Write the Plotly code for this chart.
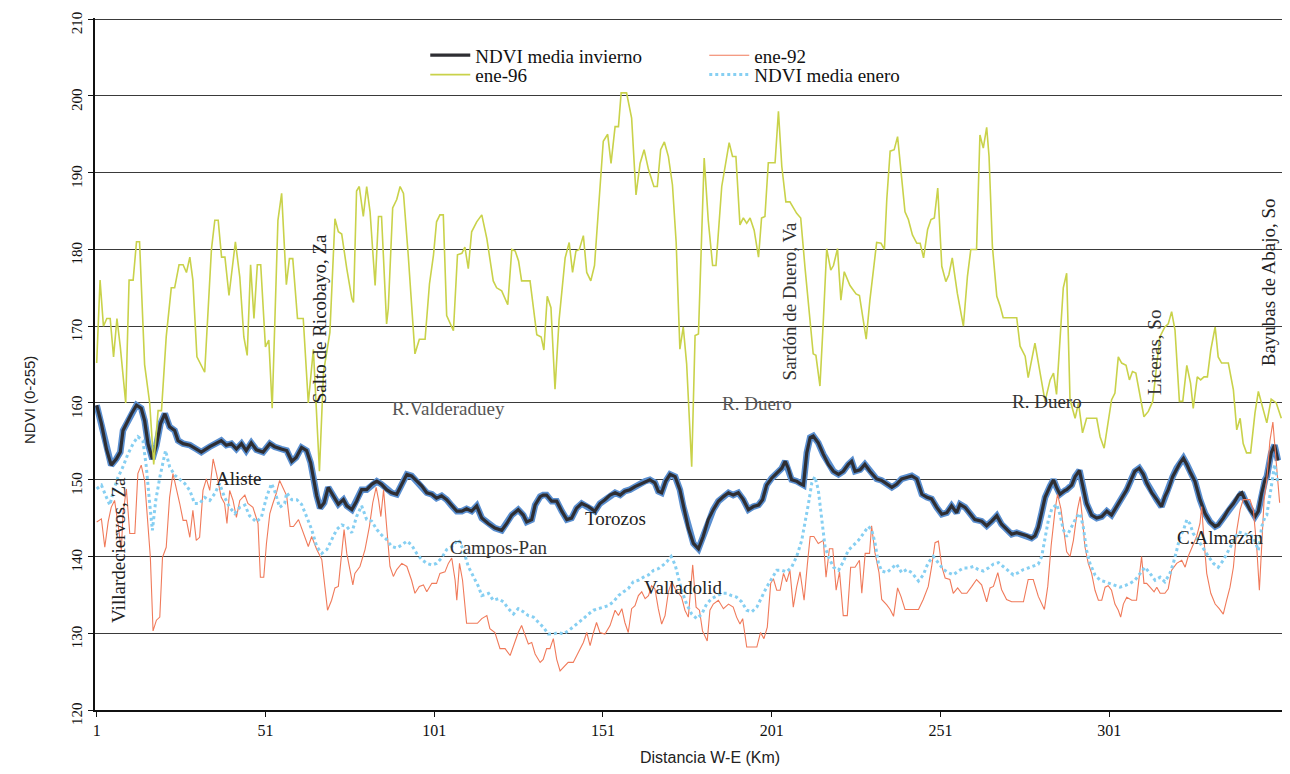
import plotly.graph_objects as go

# ---------------- data (km, NDVI) ----------------
invierno = [(1,159.7),(2.4,157.3),(3.9,154),(5.3,151.9),(6.8,152.7),(8,153.6),(8.8,156.4),(10,157.5),(11.3,158.6),(12.8,159.7),(14.2,159.3),(15.2,157.7),(16.2,154.7),(17.5,152.7),(18.7,154.5),(19.9,157.3),(21.2,158.6),(22.6,156.9),(24.1,156.4),(25.1,155.1),(26.6,154.7),(28.6,154.5),(30.5,154),(32,153.6),(34.5,154.3),(36.5,154.8),(37.9,155.1),(39.4,154.5),(40.9,154.7),(42.4,154),(43.9,154.7),(45.3,153.8),(46.8,154.8),(48.3,153.9),(50.3,153.6),(52.3,154.7),(53.7,154.3),(55.7,154),
(57.3,153.8),(58.8,152.4),(60.1,152.9),(61.7,154.2),(63.2,153.8),(64.4,152.2),(65.2,150),(66.2,147.9),(67.2,146.3),(68.4,147),(69.6,149),(71.1,147.9),(72.6,146.8),(74.1,147.4),(75.1,146.6),(76.6,146.1),(78,147.2),(79.5,148.7),(81,148.7),(82.5,149.4),(84,149.8),(85.4,149.4),(86.9,148.7),(88.4,148.3),(89.9,148.1),(91.4,149.4),(92.9,150.7),(94.3,150.5),(95.8,149.8),(97.3,149.2),(98.8,148.3),(100.3,148.1),(101.7,147.6),(103.2,147.9),(104.7,147.4),(106.2,146.6),(107.7,145.9),(109.2,145.9),(110.6,146.2),(112.1,145.9),(113.6,146.6),
(115.1,145),(117,144.3),(119,143.7),(121,143.4),(122.5,144.3),(124,145.4),(125.9,146.1),(127.4,145.4),(128.4,144.5),(129.9,144.8),(130.9,146.7),(132.4,147.8),(133.3,148),(134.3,148),(135.8,147.2),(137.3,147.2),(138.8,145.9),(140.3,144.8),(141.7,145),(143.2,146.3),(144.7,146.9),(146.7,146.5),(148.6,145.9),(150.1,146.9),(151.6,147.4),(153.1,148),(154.6,148.3),(156.1,148),(157.5,148.5),(159,148.7),(160.5,149.1),(162,149.4),(163.5,149.8),(164.9,150),(166.4,149.6),(167.4,148.5),(168.4,148.3),(169.6,149.8),(170.9,150.7),(172.4,150.4),
(173.8,148.7),(174.8,146.5),(176.3,143.7),(177.8,141.7),(179.3,141),(180.7,142.6),(182.2,144.8),(183.7,146.1),(185.2,147.2),(186.7,147.8),(188.2,148.3),(189.6,148),(191.1,148.3),(192.6,147.4),(194.1,146.1),(195.6,146.5),(197.1,146.7),(198.3,147.4),(199.5,149.3),(201,150.2),(202.5,150.9),(204,151.5),(205,152.4),(205.9,151.5),(206.9,150),(208.4,149.8),(209.4,149.5),(210.4,149.3),(211.4,153.5),(212.4,155.5),(213.3,155.7),(214.8,154.8),(216.3,153.3),(217.8,152),(219.3,151.1),(220.8,150.7),(222.2,151.1),(223.7,152),(224.7,152.4),(225.7,151.1),(227.2,151.3),(228.6,152),(230.1,151.1),
(232.1,150.1),(233.6,149.9),(235.1,149.4),(236.6,149),(238,149.4),(239.5,150.1),(241,150.3),(242.5,150.5),(244,150.1),(245.5,148.1),(247,147.7),(248.4,147.5),(249.9,146.4),(251.4,145.5),(252.9,145.7),(254.3,146.6),(255.8,145.7),(256.8,146.8),(258.3,146.4),(259.8,145.5),(261.2,144.8),(263.2,144.6),(264.7,144),(266.2,144.6),(267.7,145.3),(269.1,144.2),(270.6,143.5),(272.1,142.9),(273.6,143.1),(275.1,142.9),(276.6,142.7),(278,142.4),(279,142.7),(280,143.8),(281,145.7),(282,147.7),(283.5,149.2),(284.5,150),(285.4,149),(286.4,148.1),(287.9,148.6),
(288.4,148.7),(289.9,149.3),(290.9,150.4),(292.2,151.2),(293.3,149.1),(294.3,146.9),(295.8,145.4),(297.3,145),(298.8,145.2),(300.3,145.9),(301.7,145.4),(303.2,146.5),(304.7,147.4),(306.2,148.7),(307.7,150.2),(308.6,151.1),(309.9,151.5),(311.1,150.7),(312.1,149.6),(313.6,148.3),(315.1,147.4),(316.5,146.5),(317.5,147.8),(318.5,148.7),(319.8,150.4),(321,151.5),(322,152.2),(323,152.8),(324,152),(325.1,150.9),(326.4,149.8),(327.9,147.4),(329.4,145.6),(330.9,144.5),(332.4,143.9),(333.3,144.1),(334.8,145),(336.3,146.1),(337.8,146.9),(339.3,148),(340.3,148.3),(341.2,147.4),(342.7,146.1),(344.2,145.2),(345.2,145.9),(346.2,148.3),(347.2,150),(347.7,150.4),(349,153.5),(350,154.5),(351,152.5)]

ene92 = [(1,144.5),(2.4,144.9),(3.4,141.2),(4.4,144.5),(5.3,146.4),(6.3,147.3),(7.3,144.3),(8.3,140.8),(8.8,145.6),(9.8,148.8),(10.8,143),(12.3,143),(13.2,150.8),(14.2,151.9),(15.2,149.9),(16.2,144.3),(16.9,139.9),(17.7,130.3),(18.7,131.7),(19.7,132.1),(20.5,139.9),(21.6,141.2),(22.6,147.7),(23.6,150.8),(24.6,149),(25.6,146.9),(26.6,144.7),(27.6,144.7),(28.6,142.5),(29.5,146),(30.5,142.1),(31.5,142.5),(32.5,148.6),(33.5,150.1),(34.5,148.6),(35.5,152.7),(36.5,150.8),(37.9,147.7),(38.9,146.9),(39.6,144.3),(40.4,148.6),(41.4,147.3),(42.4,145.1),(43.4,147.3),(44.9,148),(45.8,146.9),(47.3,146.4),(48.8,144.3),(49.5,137.3),(50.5,137.3),(51.3,141.7),(52.3,145.6),(53.2,146.9),(54.2,148.2),(55.2,149.9),(56.7,148.6),
(57.3,147.9),(58.3,143.9),(59.3,143.9),(60.8,144.8),(62.2,143.1),(63.7,141.3),(64.7,142.6),(66.2,140.9),(67.7,139.6),(68.7,135.6),(69.4,133),(70.6,134.3),(71.6,135.9),(72.6,136.1),(73.6,140.4),(74.3,143.5),(75.1,140.4),(76.1,137.8),(76.9,136.3),(77.5,137.8),(79,138.7),(80.5,140.9),(81.8,143.9),(82.8,147),(83.8,149),(84.5,147.4),(85.2,145.2),(86,148.7),(86.9,143.9),(87.9,138.7),(88.9,137.4),(89.9,138.3),(91.4,139.1),(92.9,138.7),(94.3,136.9),(95.3,135.2),(96.6,136.1),(97.8,136.3),(98.8,135.4),(100.3,136.5),(101.7,136.5),(102.7,137.8),(104.2,138),(105.2,139.1),(106.2,139.8),(107.2,136.9),(107.7,134.3),(108.5,139.1),(109.4,136.9),(110.6,131.3),(112.6,131.3),(113.8,131.3),
(115.1,131.9),(116.6,132.3),(117.5,130.6),(119,130.1),(120.5,128),(122,128),(123.5,127.1),(124.9,128.8),(125.9,130.1),(126.9,131),(127.9,129.7),(128.9,128.6),(129.9,128.8),(130.9,127.3),(132.4,126.2),(133.3,126.6),(134.3,128),(135.3,128),(136.3,129.3),(137.3,126.6),(138.3,125.1),(139.8,125.8),(140.7,126.2),(142.2,126.2),(143.2,127.1),(144.2,128),(145.2,128.8),(146.2,130.1),(147.2,128.4),(148.2,130.1),(149.1,131.4),(150.1,130.1),(151.6,129.9),(153.1,131),(154.6,133),(155.6,132.3),(156.6,133.2),(157.5,131.4),(158.5,130.1),(159.5,133.2),(160.5,133.6),(161.5,134.9),(162.5,135.4),(163.5,134.5),(164.5,134.9),(165.4,136.2),(166.4,135.8),(167.4,133.2),(168.4,131.2),(169.4,132.3),(170.4,135.4),(171.4,136.7),(172.4,135.8),
(174.3,134.7),(175.3,133),(176.3,132.1),(177.6,138.9),(178.6,133.4),(179.6,133),(180.5,130.3),(181.9,129),(182.7,133),(183.7,133.8),(185.2,134.3),(186.7,133.2),(188.2,133.8),(189.6,133.4),(190.6,132.1),(191.6,131.2),(192.4,131.9),(193.6,128.2),(195.1,128.2),(196.6,128.2),(197.7,130.1),(198.7,129.3),(199.7,130.8),(200.7,136.5),(201.5,137.1),(202.5,135.6),(203.5,135.6),(204.5,137.8),(205.4,136.7),(206.4,138.2),(207.4,133.4),(208.4,136),(209.4,138),(210.6,134.3),(211.6,139.1),(212.4,142.6),(213.5,142.6),(214.8,141.7),(216.3,142.1),(217.1,137.3),(218.1,141),(219.1,141),(220.1,135.6),(221.1,138),(222.2,132.3),(223.4,132.3),(224.4,138.6),(225.7,138.6),(227,139.5),(227.7,135.2),(228.7,140.4),(230,140.4),
(230.6,144),(231.6,140.5),(232.8,137.9),(233.6,134.4),(235.1,133.7),(236.1,133.1),(237.1,132.2),(238.3,135.9),(239.3,134.8),(240.5,133.1),(242.5,133.1),(244.5,133.1),(245.9,134.4),(247.4,136.1),(248.4,138.7),(249.4,141.8),(250.4,142),(251.4,138.7),(252.4,137.2),(253.8,137),(254.8,135.2),(256.1,135.9),(257.3,135.2),(258.8,135.2),(260.3,136.1),(261.7,137),(263.2,136.3),(264.7,134.1),(265.7,135.9),(266.7,136.1),(268,137.9),(269.1,135.7),(270.6,134.4),(272.1,134.1),(274.1,134.1),(275.6,134.1),(277,137),(278.5,137),(280,134.8),(281.8,133.1),(282.8,136.1),(283.8,141.4),(285,146.2),(285.7,148.1),(286.7,146.2),(287.7,142.7),
(288.4,140.6),(289.4,140),(290.4,142.1),(291.6,146.1),(292.4,147.8),(293.1,144.8),(293.8,141.3),(294.8,139.1),(295.8,137.8),(296.8,135.6),(297.8,134.3),(298.8,134.3),(299.8,136),(300.7,136.2),(301.7,135.6),(302.7,133.8),(303.7,133),(304.4,132.1),(305.2,133.8),(306.2,134.7),(307.7,134.3),(309.1,134.3),(309.9,137.8),(310.6,140),(311.3,136.5),(312.1,136.5),(313.1,136),(314.3,135.4),(315.1,136),(316.1,135.2),(317.5,135.2),(318.5,135.8),(319.5,138.2),(321,139.1),(322.5,139.5),(323.5,138.6),(324.4,140),(325.7,141.3),(326.9,142.6),(327.9,144.3),(328.4,146.5),(329.1,142.1),(329.9,137.8),(331.1,135.2),(332.4,133.8),(333.6,133.2),(334.8,132.5),(335.8,134.3),(336.8,136),(337.8,138.6),(338.8,143.4),(339.8,146.1),(340.7,147.4),(341.7,147.4),(342.7,147.4),(343.7,146.1),(344.7,141.3),(345.5,135.6),(346.2,141.7),(346.9,147.4),(347.7,150),(348.6,155),(349.5,157.5),(350.5,152),(351.5,147)]

ene96 = [(1,165.2),(2,176),(3,170),(4,171),(5,171),(6,166),(7,171),(8,167.3),(9.6,160),(10.6,176),(11.8,176),(12.8,181),(13.7,181),(15.2,165),(16.7,160),(17.9,152),(19.2,159),(20.2,159),(21.6,168.6),(23.1,175),(24.1,175),(25.4,178),(26.6,178),(27.6,177),(28.6,179),(29.5,176),(30.7,166),(33,164),(35,180),(36,183.8),(37,183.8),(38,179),(39,179),(40.2,174),(42.1,181),(43.4,176.4),(44.6,168.6),(45.6,166.2),(46.6,178),(47.6,171),(48.6,178),(49.6,178),(51,167.3),(52,168.2),(53,159.3),(54.7,183.8),(55.8,187.3),(57.2,175.4),
(58.1,178.8),(59.1,178.8),(60.5,171),(62.2,171),(63.7,160),(65.2,167),(67,151.1),(68.2,164),(70.1,169.2),(71.6,184),(72.6,182.3),(73.6,182),(75.1,177.5),(76.6,173.6),(77.1,173.1),(78,187.6),(78.8,188.2),(80,184.3),(81,188.2),(82,184.9),(83.5,175.3),(84.5,184.3),(85.4,184.3),(86.9,170.3),(87.4,172.3),(88.7,185.4),(89.9,186.5),(90.9,188.2),(91.9,187.3),(93.3,179.3),(95.3,166.4),(96.6,168.3),(98.3,168.3),(99.6,175.5),(100.8,179.3),(101.7,183.6),(102.7,184.5),(103.7,184.5),(104.7,171.4),(106.7,169.4),(107.9,179.3),(109.2,179.5),(110.1,180.3),(111.1,177.5),(112.1,182.3),(113.6,183.6),(115.1,184.5),
(116.6,181.4),(118.5,175.9),(119.5,175),(121,174.6),(122.8,172.8),(124,180),(125,179.8),(126,178.5),(126.9,175.9),(129.4,175.9),(131.4,168.9),(132.7,168.6),(133.5,166.9),(134.5,173.9),(135.6,172.4),(136.8,161.8),(138,170.8),(139.8,178.9),(141,180.9),(142,177),(143,179.8),(144,180),(145.2,181.8),(146.2,177),(147.4,175.9),(148.5,177.9),(149.6,184.9),(151.1,194.1),(152.4,195),(153.4,191.2),(154.6,196),(155.6,196),(156.4,200.4),(158,200.4),(159.5,197.1),(160.8,187.1),(162,191.2),(163.2,193),(164.5,190.4),(166.1,188.2),(167.1,188.2),(168.1,193),(169.2,194),(170.4,192.1),(171.6,188.4),(172.7,180.9),
(173.8,167),(174.8,169.9),(175.8,165.1),(177.3,151.7),(178.3,168.8),(179.3,169),(181,191.9),(182.2,183.8),(183.5,177.9),(184.5,177.9),(186.2,188.2),(188.4,193.9),(189.4,192.1),(190.4,192.1),(191.6,183.2),(192.6,184.1),(193.6,183.4),(194.6,184.1),(195.8,182.5),(197.1,179),(198,184.1),(199,184.3),(200,191.3),(202,191.3),(203,198),(204,190.8),(205.2,186.2),(206.4,186.2),(208.4,184.7),(209.6,184.1),(210.9,177.5),(212.2,171.2),(213.3,166.4),(214.1,166.2),(215.3,162.2),(216.3,170.7),(217.3,180.1),(218.5,177.3),(219.3,177.9),(220.5,180.1),(221.5,173.4),(222.5,177.1),(224.2,175.3),(226,174.2),(227,174),(229,168.3),(230.1,173.4),
(232.1,180.9),(233.4,180.8),(234.4,180),(235.1,186.5),(236.1,192.8),(237.3,193),(238.3,194.7),(239.7,188.2),(240.5,184.9),(241.5,183.9),(242.7,181.9),(244,180.8),(245,180.8),(246,178.9),(247.2,182.6),(248.2,183.9),(249.2,184.1),(250.2,188),(251.4,177.8),(252.6,175.8),(253.5,176.7),(254.5,178.9),(256,174.3),(257.8,170),(259,176.5),(260,180),(261.7,180),(262.7,194.9),(263.7,193.2),(264.7,195.9),(265.4,192.1),(266.4,180.4),(267.7,173.9),(268.7,172.6),(269.6,171.1),(273.6,171.1),(274.6,167.4),(276.1,166.1),(277,163.3),(279,167.8),(280.5,163.9),(282,160.2),(283.5,163),(284.5,163.9),(285.4,161.1),(286.7,170.4),(287.4,175),(288.4,176.9),
(289.4,160.4),(290.9,158),(291.9,160),(293.1,156.1),(294.3,158),(297.3,158),(298.3,155.6),(299.5,154.1),(300.7,157.4),(301.7,160.4),(302.7,161.3),(303.7,166),(304.7,165.2),(306,164.9),(307,163),(307.9,164.1),(308.9,163.9),(310.1,160.8),(311.3,158.2),(312.6,158.9),(313.9,160.2),(316,168.6),(317.5,169.9),(318.5,170.3),(319.5,171.9),(320.5,169.5),(321.8,160.2),(322.8,160.2),(324,164.9),(325.1,162.6),(325.9,159.3),(327.1,163.4),(328.1,163),(329.1,163.4),(330.1,163.4),(331.1,166.9),(332.4,169.9),(333.3,166),(334.3,165.2),(336.3,165.2),(337.8,161.7),(338.8,156.5),(339.8,158),(340.7,154.7),(341.7,153.5),(342.9,153.5),(344.2,158.7),(345.2,161.5),(346.7,159.1),(347.7,157.4),(349,160.5),(350.5,160),(352,158)]

enero = [(1,148.8),(2.4,149.3),(3.9,147.7),(4.9,146.7),(6,148.6),(7.3,150.3),(8.8,151.7),(10.3,153.4),(11.8,154.7),(13.2,155.6),(14.7,155.1),(15.7,151.7),(16.7,146.9),(17.5,143.4),(18.5,147.3),(19.7,150.3),(21.4,153.8),(22.6,151.7),(24.1,150.6),(25.6,150.1),(27.1,149.5),(28.6,148.6),(30,146.9),(31.5,146.9),(33,147.7),(34.5,147.3),(36,148.2),(37.4,149.5),(38.9,147.7),(40.4,146.4),(41.9,145.6),(43.4,146.4),(44.9,146.7),(46.3,145.3),(48.3,144.5),(49.8,145.1),(51.3,147.7),(52.8,149.5),(53.7,148.6),(55.2,146.4),(56.7,146.9),
(57.3,148.3),(58.8,147.4),(60.3,147.4),(61.7,146.8),(63.2,145.2),(64.7,143.5),(66.2,141.3),(67.7,140.4),(69.2,140.9),(70.6,142.2),(72.1,143.5),(73.6,144.1),(75.1,143.9),(76.6,143.1),(78,145.2),(79.5,146.6),(81,144.8),(82.5,144.6),(84,143.5),(85.4,142.8),(86.9,142.2),(88.4,141.3),(89.9,141.1),(91.4,141.5),(92.9,142),(94.3,141.5),(95.8,140.4),(97.3,139.6),(98.8,139.1),(100.3,138.9),(101.7,139.1),(103.2,139.8),(104.7,140.9),(106.2,141.3),(108.2,142.2),(109.6,140.9),(111.1,138.7),(112.6,137.4),(114.1,136.1),
(115.1,134.9),(117.1,135.2),(118.5,134.3),(120,134.5),(121.5,134.1),(123,133.2),(124.5,132.5),(125.9,133.2),(127.4,132.8),(128.9,132.3),(130.4,132.1),(131.9,131.4),(133.3,130.8),(134.8,129.9),(136.3,129.9),(137.8,130.1),(139.3,129.9),(140.7,130.3),(142.2,130.8),(143.7,131.4),(145.2,131.9),(146.7,132.5),(148.2,133),(149.6,133.2),(151.1,133.4),(152.6,133.6),(154.1,134.1),(155.6,134.9),(157.1,135.4),(158.5,135.8),(160,136.7),(161.5,136.9),(163,137.3),(164.5,137.6),(166,138.2),(167.4,138.4),(168.9,138.9),(169.9,139.3),(171.2,140),(172.4,138.9),
(174.3,135.6),(175.8,133.8),(177.3,132.5),(178.8,131.9),(180.3,132.5),(181.7,133.8),(183.2,134.5),(184.7,134.9),(186.2,135.2),(187.7,135.2),(189.1,134.9),(190.6,134.7),(192.1,134.1),(193.6,133),(195.1,132.8),(196.6,133.4),(198,134.7),(199.5,136),(201,137.1),(202.5,138.2),(204,138.2),(205.4,138),(206.9,138.6),(208.4,140),(209.9,142.1),(210.9,144.3),(211.9,146.9),(212.9,149.6),(213.8,150.4),(214.8,148.7),(215.8,145.2),(216.8,141.3),(217.8,140),(219.3,138.6),(220.8,138.2),(222.2,139.3),(223.7,140.8),(225.2,141.5),(226.7,142.1),(228.2,143),(229.6,143.9),
(230.6,143.5),(231.6,141.8),(232.6,139.2),(233.6,138.1),(235.1,137.9),(236.6,138.5),(238,139),(239.5,137.9),(241,138.3),(242.5,137.9),(244.5,136.8),(245.9,137.6),(247.4,139.2),(248.9,140),(250.4,139.2),(251.9,138.3),(253.3,137.9),(254.8,137.6),(256.3,138.1),(257.8,138.5),(259.3,138.5),(260.8,138.7),(262.2,138.3),(263.7,138.1),(265.2,138.5),(266.7,139),(268.2,139.2),(269.6,138.7),(271.1,138.1),(272.6,137.6),(274.1,137.9),(275.6,138.3),(277,138.5),(278.5,138.7),(280,139),(281,140),(282,142.2),(283,144.8),(284,146.2),(285.4,146.8),(286.4,145.5),(287.4,143.5),
(288.4,142.6),(289.9,143.9),(291.4,145.2),(292.4,145.6),(293.3,143.9),(294.3,140.8),(295.3,139.1),(296.8,137.6),(298.3,136.9),(299.8,136.7),(301.2,136.5),(302.7,136.2),(304.2,136),(305.7,136.2),(307.2,136.5),(308.6,136.9),(310.1,137.8),(311.6,138.6),(313.1,137.8),(314.6,136.9),(316.1,137.3),(317.5,136.7),(319,137.8),(320,139.1),(321,140.8),(322,142.6),(323,143.4),(324,144.8),(324.9,144.3),(325.9,143),(327.4,142.1),(328.9,141),(330.4,140),(331.9,139.1),(333.3,138.6),(334.8,139.5),(336.3,140.8),(337.8,142.1),(339.3,143.2),(340.7,143),(342.2,142.8),(343.7,142.6),(345.2,140.8),(346.2,143.9),(347.2,145.2),(347.7,145.4),(349,149),(350,152),(351,149.5)]

x_ticks = [1, 51, 101, 151, 201, 251, 301]
y_ticks = [120, 130, 140, 150, 160, 170, 180, 190, 200, 210]

# place labels: (text, km, NDVI, rotated?, colour)
places = [
    ("Villardeciervos, Za", 7.5, 140.8, True, "#222222"),
    ("Aliste", 43, 150.2, False, "#222222"),
    ("Salto de Ricobayo, Za", 67.1, 171.0, True, "#222222"),
    ("R.Valderaduey", 105.3, 159.3, False, "#555555"),
    ("Campos-Pan", 120.1, 141.2, False, "#333333"),
    ("Torozos", 154.8, 145.0, False, "#222222"),
    ("Valladolid", 174.9, 135.9, False, "#222222"),
    ("R. Duero", 196.6, 159.9, False, "#555555"),
    ("Sardón de Duero, Va", 206.3, 173.3, True, "#333333"),
    ("R. Duero", 282.5, 160.2, False, "#333333"),
    ("Liceras, So", 314.5, 166.6, True, "#333333"),
    ("C.Almazán", 334.0, 142.5, False, "#222222"),
    ("Bayubas de Abajo, So", 348.3, 175.7, True, "#222222"),
]


def xs(series):
    return [p[0] for p in series]


def ys(series):
    return [p[1] for p in series]


SERIF = "Liberation Serif, Times New Roman, serif"
SANS = "Liberation Sans, Arial, sans-serif"

fig = go.Figure()

# blue halo under the winter mean line
fig.add_trace(go.Scatter(x=xs(invierno), y=ys(invierno), mode="lines",
                         line=dict(color="#5a8fd0", width=6.5),
                         showlegend=False, hoverinfo="skip"))
fig.add_trace(go.Scatter(x=xs(invierno), y=ys(invierno), mode="lines",
                         name="NDVI media invierno",
                         line=dict(color="#2e2e33", width=3.2), legend="legend"))
fig.add_trace(go.Scatter(x=xs(ene92), y=ys(ene92), mode="lines", name="ene-92",
                         line=dict(color="#f07a5a", width=1.1), legend="legend"))
fig.add_trace(go.Scatter(x=xs(ene96), y=ys(ene96), mode="lines", name="ene-96",
                         line=dict(color="#c9d24a", width=1.6), legend="legend2"))
fig.add_trace(go.Scatter(x=xs(enero), y=ys(enero), mode="lines", name="NDVI media enero",
                         line=dict(color="#86cff2", width=3, dash="dot"), legend="legend2"))

annotations = []
for text, km, val, rot, col in places:
    annotations.append(dict(x=km, y=val, xref="x", yref="y", text=text, showarrow=False,
                            textangle=-90 if rot else 0, xanchor="center", yanchor="middle",
                            font=dict(family=SERIF, size=19, color=col)))

annotations.append(dict(x=-0.0547, y=0.448, xref="paper", yref="paper", text="NDVI (0-255)",
                        textangle=-90, showarrow=False, xanchor="center", yanchor="middle",
                        font=dict(family=SANS, size=15, color="#222")))
annotations.append(dict(x=0.518, y=-0.069, xref="paper", yref="paper", text="Distancia W-E (Km)",
                        showarrow=False, xanchor="center", yanchor="middle",
                        font=dict(family=SANS, size=16, color="#222")))

legend_common = dict(orientation="h", xanchor="left", yanchor="middle",
                     bgcolor="rgba(0,0,0,0)", font=dict(family=SERIF, size=19, color="#111"),
                     entrywidth=224, entrywidthmode="pixels", itemwidth=40)

# the page body adds an 8 px offset, so the figure is 8 px smaller and margins shifted
fig.update_layout(
    width=1282, height=766,
    margin=dict(l=87, r=7, t=10, b=64, autoexpand=False),
    paper_bgcolor="white", plot_bgcolor="white",
    showlegend=True,
    legend=dict(x=0.278, y=0.946, **legend_common),
    legend2=dict(x=0.278, y=0.918, **legend_common),
    annotations=annotations,
    xaxis=dict(range=[0.5, 352.5], tickvals=x_ticks, ticktext=[str(t) for t in x_ticks],
               automargin=False,
               showgrid=False, zeroline=False, showline=True, linecolor="#111", linewidth=1.5,
               ticks="outside", ticklen=5, tickcolor="#111",
               tickfont=dict(family=SERIF, size=16, color="#111")),
    yaxis=dict(range=[120, 210.15], tickvals=y_ticks, showgrid=True, gridcolor="#3a3a3a",
               automargin=False, ticklabeloverflow="allow", ticklabelshift=6,
               gridwidth=1.3, zeroline=False, showline=True, linecolor="#111", linewidth=1.5,
               ticks="outside", ticklen=5, tickcolor="#111", tickangle=-90,
               tickfont=dict(family=SERIF, size=15, color="#111")),
)

fig.write_html("out.html")
